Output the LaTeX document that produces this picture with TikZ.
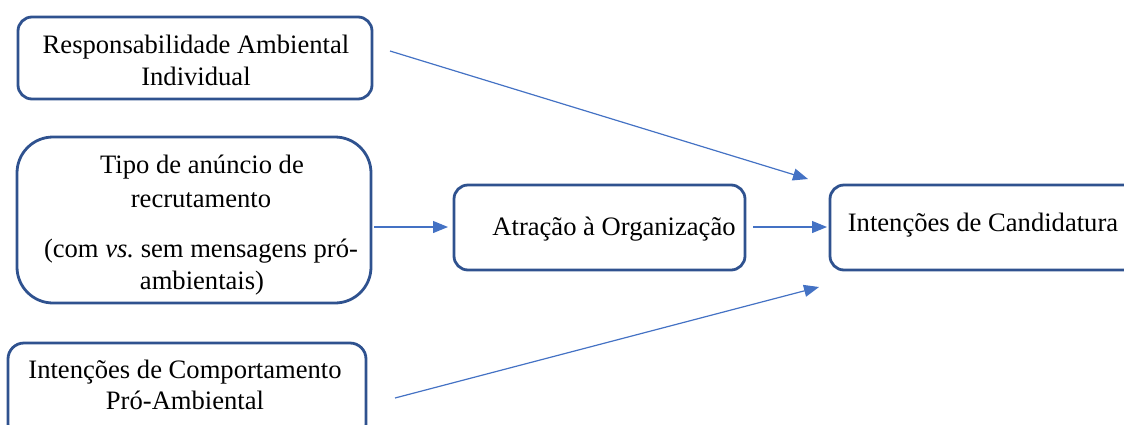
\documentclass[tikz,border=0pt]{standalone}
\usepackage{fontspec}
\setmainfont{Liberation Serif}
\usetikzlibrary{arrows.meta}
\definecolor{boxblue}{HTML}{2F528F}
\definecolor{arrblue}{HTML}{4472C4}
\begin{document}
\begin{tikzpicture}[x=1pt,y=-1pt,
  box/.style={draw=boxblue, line width=2.8pt, rounded corners=#1, inner sep=0pt, outer sep=0pt},
  box/.default=14pt,
  txt/.style={inner sep=0pt, anchor=base, font=\fontsize{26.6}{33}\selectfont},
  arr/.style={draw=arrblue, line width=1.2pt, -{Triangle[length=15pt,width=12pt]}}]
\clip (0,0) rectangle (1124,424);
% boxes
\node[box, minimum width=354pt, minimum height=82pt] (b1) at (195,58) {};
\node[box=36pt, minimum width=354pt, minimum height=166pt] (b2) at (194,220) {};
\node[box=16pt, minimum width=358pt, minimum height=97pt] (b3) at (187,391.5) {};
\node[box, minimum width=291pt, minimum height=85pt] (b4) at (599.5,227.5) {};
\node[box, minimum width=310pt, minimum height=85pt] (b5) at (985,227.5) {};
% texts
\node[txt] (t1a) at (196,53) {Responsabilidade Ambiental};
\node[txt] (t1b) at (196,85) {Individual};
\node[txt] (t2a) at (202,173) {Tipo de anúncio de};
\node[txt] (t2b) at (201,207) {recrutamento};
\node[txt] (t2c) at (201,257) {(com {\itshape vs.}\ sem mensagens pró-};
\node[txt] (t2d) at (202,289) {ambientais)};
\node[txt] (t3a) at (185,378) {Intenções de Comportamento};
\node[txt] (t3b) at (185,409) {Pró-Ambiental};
\node[txt] (t4) at (614,235) {Atração à Organização};
\node[txt] (t5) at (983,231) {Intenções de Candidatura};
% connector ends
\coordinate (s1) at (390,51);
\coordinate (e1) at (808,179);
\coordinate (s2) at (374,227);
\coordinate (e2) at (448,227);
\coordinate (s3) at (753,227);
\coordinate (e3) at (827,227);
\coordinate (s4) at (395,398);
\coordinate (e4) at (819,287);
\draw[arr] (s1) -- (e1);
\draw[arr] (s2) -- (e2);
\draw[arr] (s3) -- (e3);
\draw[arr] (s4) -- (e4);
\end{tikzpicture}
\end{document}
